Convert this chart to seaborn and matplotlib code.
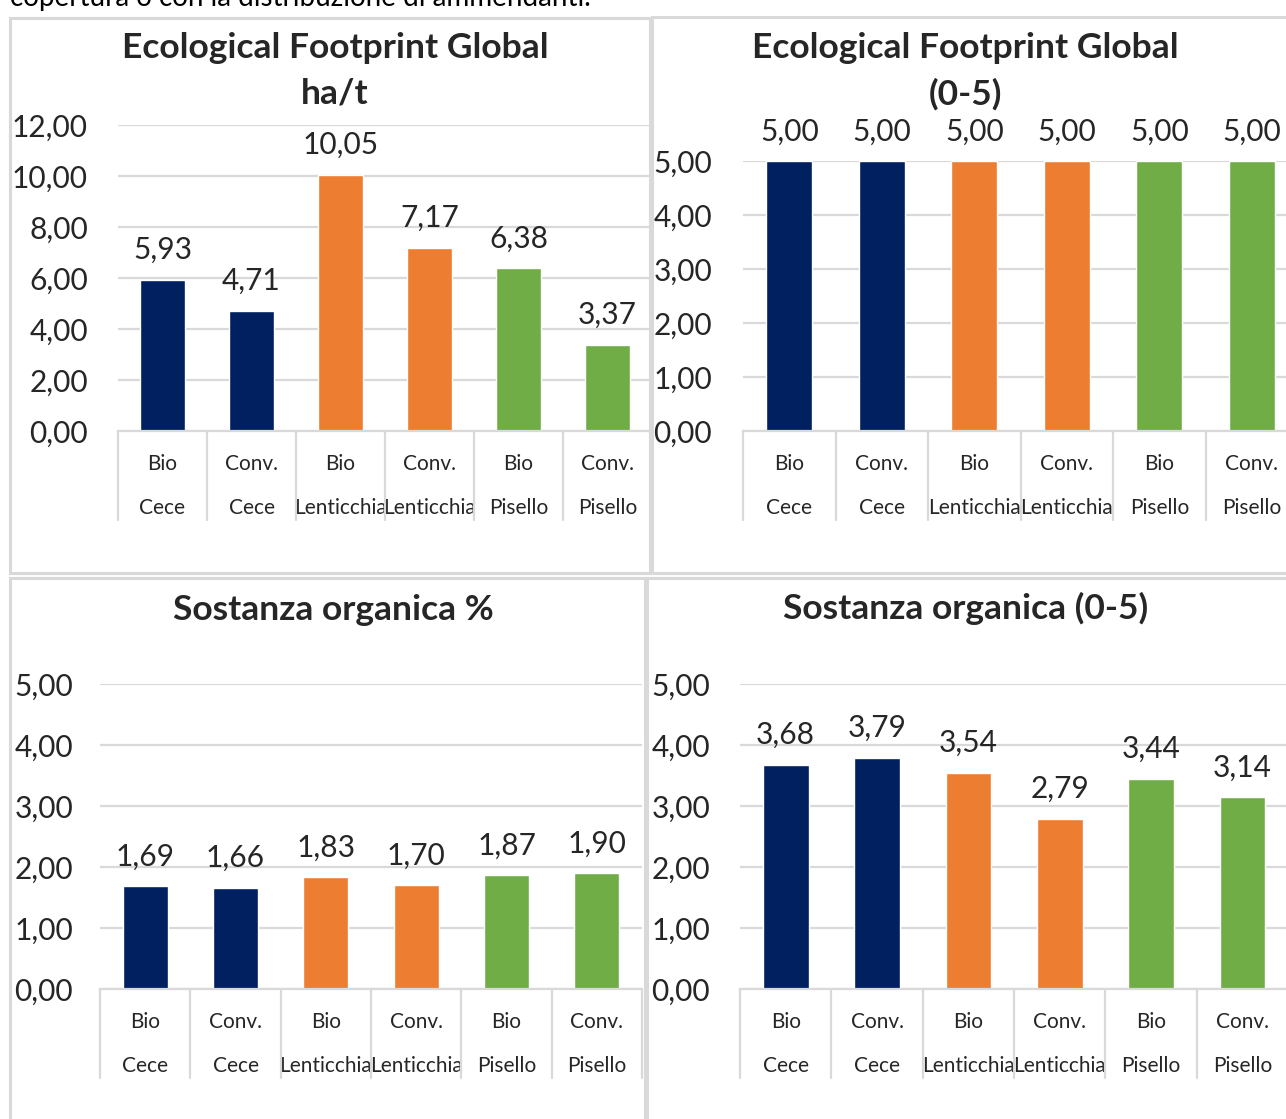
import matplotlib
matplotlib.use("Agg")
import matplotlib.pyplot as plt
import matplotlib.patches as mpatches
import matplotlib.transforms as mtransforms
import seaborn as sns
import pandas as pd

# ---- data -------------------------------------------------------------
categories = ["Bio\nCece", "Conv.\nCece", "Bio\nLenticchia",
              "Conv.\nLenticchia", "Bio\nPisello", "Conv.\nPisello"]
crops = ["Cece", "Cece", "Lenticchia", "Lenticchia", "Pisello", "Pisello"]
ef_ha_t = [5.93, 4.71, 10.05, 7.17, 6.38, 3.37]
ef_score = [5.00, 5.00, 5.00, 5.00, 5.00, 5.00]
so_pct = [1.69, 1.66, 1.83, 1.70, 1.87, 1.90]
so_score = [3.68, 3.79, 3.54, 2.79, 3.44, 3.14]

crop_colors = {"Cece": "#002060", "Lenticchia": "#ED7D31", "Pisello": "#70AD47"}
GRID = "#d9d9d9"

sns.set_style("white")
plt.rcParams["font.family"] = ["Lato", "DejaVu Sans"]

W, H = 1286, 1119
PT = 0.72  # points per pixel at 100 dpi
fig = plt.figure(figsize=(W / 100, H / 100), dpi=100)


def px_rect(x0, y0, x1, y1):
    """Figure-fraction rectangle from pixel edges (origin top-left)."""
    return [x0 / W, 1 - y1 / H, (x1 - x0) / W, (y1 - y0) / H]


def comma(v):
    return f"{v:.2f}".replace(".", ",")


# panel frames
for x0, y0, x1, y1 in [(10, 18, 650, 573), (652, 17, 1292, 573),
                       (10, 578, 645, 1125), (647, 578, 1292, 1125)]:
    fig.patches.append(mpatches.Rectangle((x0 / W, 1 - y1 / H), (x1 - x0) / W,
                                          (y1 - y0) / H, transform=fig.transFigure,
                                          fill=False, edgecolor=GRID, linewidth=2.2,
                                          zorder=0))

fig.text(10 / W, 1 - 6 / H, "copertura o con la distribuzione di ammendanti.",
         fontsize=20, ha="left", va="baseline", color="black")

NUM_SIZE = 21.5


def panel(rect, values, ymax, step, tick_pad_px, label_pad_px):
    ax = fig.add_axes(rect)
    df = pd.DataFrame({"cat": categories, "val": values, "crop": crops})
    sns.barplot(data=df, x="cat", y="val", hue="crop", palette=crop_colors,
                dodge=False, width=0.5, legend=False, ax=ax, saturation=1)
    ax.set_xlim(-0.5, len(categories) - 0.5)
    ax.set_ylim(0, ymax)
    ticks = [i * step for i in range(int(round(ymax / step)) + 1)]
    ax.set_yticks(ticks)
    ax.set_yticklabels([comma(t) for t in ticks], fontsize=NUM_SIZE)
    ax.tick_params(axis="y", length=0, pad=tick_pad_px * PT)
    ax.set_xticks(range(len(categories)))
    ax.set_xticklabels(categories, fontsize=15, linespacing=2.5)
    ax.tick_params(axis="x", length=0, pad=16.5)
    ax.yaxis.grid(True, color=GRID, linewidth=1.6)
    ax.set_axisbelow(True)
    for s in ["top", "right", "left"]:
        ax.spines[s].set_visible(False)
    ax.spines["bottom"].set_color(GRID)
    ax.spines["bottom"].set_linewidth(1.6)
    ax.set_xlabel("")
    ax.set_ylabel("")
    # category separators below the axis
    trans = mtransforms.blended_transform_factory(ax.transData, ax.transAxes)
    depth = 89 / (rect[3] * H)
    for b in [i - 0.5 for i in range(len(categories) + 1)]:
        ax.plot([b, b], [0, -depth], transform=trans, color=GRID,
                linewidth=1.6, clip_on=False)
    for cont in ax.containers:
        ax.bar_label(cont, labels=[comma(v) for v in cont.datavalues],
                     padding=label_pad_px * PT, fontsize=NUM_SIZE)
    ax.set_facecolor("none")
    return ax


panel(px_rect(118, 125, 652, 431), ef_ha_t, 12, 2, 30, 16)
panel(px_rect(743, 161, 1298, 431), ef_score, 5, 1, 31, 15)
panel(px_rect(100, 684, 642, 989), so_pct, 5, 1, 27, 15.5)
panel(px_rect(740, 684, 1288, 989), so_score, 5, 1, 30, 16)

title_kw = dict(fontsize=25.5, fontweight="bold", ha="center", va="center",
                linespacing=1.52)
fig.text(335 / W, 1 - 71 / H, "Ecological Footprint Global\nha/t", **title_kw)
fig.text(965 / W, 1 - 71 / H, "Ecological Footprint Global\n(0-5)", **title_kw)
fig.text(333 / W, 1 - 610 / H, "Sostanza organica %", **title_kw)
fig.text(966 / W, 1 - 608 / H, "Sostanza organica (0-5)", **title_kw)

fig.savefig("out.png", dpi=100, facecolor="white")
